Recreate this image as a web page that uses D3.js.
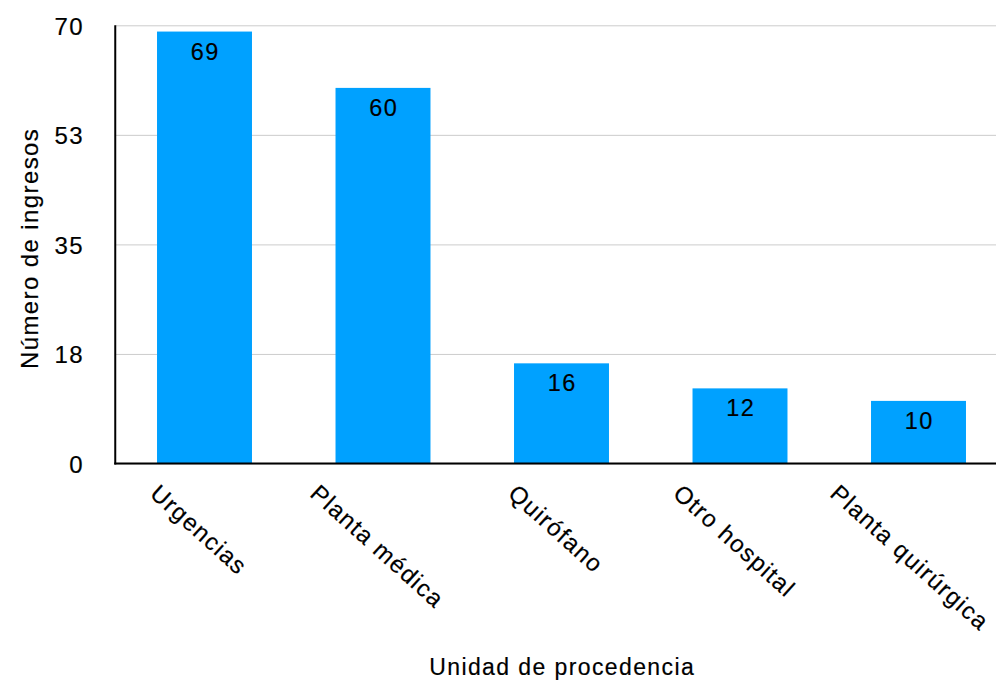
<!DOCTYPE html>
<html>
<head>
<meta charset="utf-8">
<script src="https://cdn.jsdelivr.net/npm/d3@7"></script>
<style>
  html, body { margin: 0; padding: 0; background: #ffffff; }
  svg { display: block; }
  text { font-family: "Liberation Sans", Arial, sans-serif; fill: #000; letter-spacing: 1.4px; stroke: #000; stroke-width: 0.18px; }
</style>
</head>
<body>
<svg id="chart" width="996" height="680"></svg>
<script>
// ---- data ----
const categories = ["Urgencias", "Planta médica", "Quirófano", "Otro hospital", "Planta quirúrgica"];
const values = [69, 60, 16, 12, 10];
const yTickValues = [0, 17.5, 35, 52.5, 70];
const yTickLabels = ["0", "18", "35", "53", "70"];
const yTitle = "Número de ingresos";
const xTitle = "Unidad de procedencia";

// ---- layout ----
const W = 996, H = 680;
const plot = { left: 115.25, right: 1007.75, top: 25.3, bottom: 463.5 };
const barColor = "#00a1ff";
const angle = 42;

const svg = d3.select("#chart");

const x = d3.scaleBand()
  .domain(categories)
  .range([plot.left, plot.right])
  .paddingInner(0.468)
  .paddingOuter(0.234);

const y = d3.scaleLinear()
  .domain([0, 70])
  .range([plot.bottom, plot.top]);

// gridlines
const grid = svg.append("g")
  .attr("transform", `translate(${plot.left},0)`)
  .call(d3.axisLeft(y).tickValues(yTickValues).tickSize(-(plot.right - plot.left)).tickFormat(""));
grid.select(".domain").remove();
grid.selectAll("line").attr("stroke", "#cccccc").attr("stroke-width", 1);

// bars
svg.append("g").selectAll("rect")
  .data(values)
  .join("rect")
  .attr("x", (d, i) => x(categories[i]))
  .attr("width", x.bandwidth())
  .attr("y", d => y(d))
  .attr("height", d => y(0) - y(d))
  .attr("fill", barColor);

// value labels
svg.append("g").selectAll("text")
  .data(values)
  .join("text")
  .attr("x", (d, i) => x(categories[i]) + x.bandwidth() / 2 + 0.7)
  .attr("y", d => y(d) + 28)
  .attr("text-anchor", "middle")
  .style("font-size", "23.5px")
  .text(d => d);

// y axis tick labels
const yAxis = svg.append("g")
  .attr("transform", `translate(${plot.left},0)`)
  .call(d3.axisLeft(y).tickValues(yTickValues).tickSize(0).tickPadding(0)
    .tickFormat((d, i) => yTickLabels[i]));
yAxis.select(".domain").remove();
yAxis.selectAll("text")
  .attr("x", 84 - plot.left)
  .attr("dy", null)
  .attr("y", 9)
  .attr("text-anchor", "end")
  .attr("fill", "#000")
  .style("font-size", "24px")
  .style("font-family", "'Liberation Sans', Arial, sans-serif");

// x axis labels
const xAxis = svg.append("g")
  .attr("transform", `translate(0,${plot.bottom})`)
  .call(d3.axisBottom(x).tickSize(0).tickPadding(0));
xAxis.select(".domain").remove();
xAxis.selectAll("text")
  .attr("text-anchor", "start")
  .attr("y", 0)
  .attr("dy", null)
  .attr("fill", "#000")
  .style("font-size", "24px")
  .style("font-family", "'Liberation Sans', Arial, sans-serif")
  .each(function () {
    const L = this.getComputedTextLength();
    const c = Math.cos(angle * Math.PI / 180);
    let dx = -11 - c * L / 2;
    d3.select(this).attr("transform", `translate(${dx},32) rotate(${angle})`);
    const r = this.getBoundingClientRect();
    if (r.right > W - 1) {
      dx -= (r.right - (W - 1));
      d3.select(this).attr("transform", `translate(${dx},32) rotate(${angle})`);
    }
  });

// axis lines
svg.append("line")
  .attr("x1", plot.left).attr("x2", plot.left)
  .attr("y1", plot.top).attr("y2", y(0) + 1)
  .attr("stroke", "#000").attr("stroke-width", 2);
svg.append("line")
  .attr("x1", plot.left - 1).attr("x2", plot.right)
  .attr("y1", y(0)).attr("y2", y(0))
  .attr("stroke", "#000").attr("stroke-width", 2);

// titles
svg.append("text")
  .attr("transform", `translate(37.5,${(plot.top + plot.bottom) / 2 + 4}) rotate(-90)`)
  .attr("text-anchor", "middle")
  .style("font-size", "24px")
  .text(yTitle);

svg.append("text")
  .attr("x", (plot.left + plot.right) / 2 + 0.7)
  .attr("y", 674.5)
  .attr("text-anchor", "middle")
  .style("font-size", "23px")
  .text(xTitle);
</script>
</body>
</html>
